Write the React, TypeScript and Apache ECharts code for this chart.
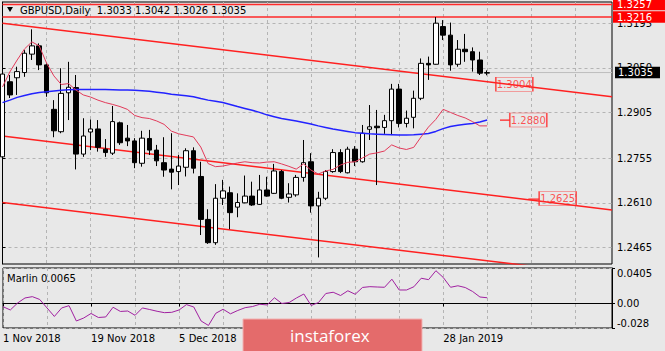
import React, { useEffect, useRef } from 'react';
import * as echarts from 'echarts';

// ---------- categories (daily bars) ----------
const novDays = [1, 2, 5, 6, 7, 8, 9, 12, 13, 14, 15, 16, 19, 20, 21, 22, 23, 26, 27, 28, 29, 30];
const decDays = [3, 4, 5, 6, 7, 10, 11, 12, 13, 14, 17, 18, 19, 20, 21, 24, 26, 27, 28, 31];
const janDays = [2, 3, 4, 7, 8, 9, 10, 11, 14, 15, 16, 17, 18, 21, 22, 23, 24, 25, 28, 29, 30, 31];
const febDays = [1, 4, 5];
const dates = [
  ...novDays.map((d) => `${d} Nov 2018`),
  ...decDays.map((d) => `${d} Dec 2018`),
  ...janDays.map((d) => `${d} Jan 2019`),
  ...febDays.map((d) => `${d} Feb 2019`),
];
const FUTURE_SLOTS = 17;
const categories = [...dates, ...Array(FUTURE_SLOTS).fill('')];
const dateLabelIdx = [0, 12, 24, 60];

// ---------- OHLC ----------
const opens = [1.2760, 1.3005, 1.3018, 1.3035, 1.3095, 1.3122, 1.3060, 1.2915, 1.2842, 1.2969, 1.2986, 1.2769, 1.2841, 1.2851, 1.2785, 1.2772, 1.2871, 1.2821, 1.2812, 1.2739, 1.2820, 1.2782, 1.2741, 1.2720, 1.2712, 1.2726, 1.2780, 1.2696, 1.2556, 1.2480, 1.2625, 1.2643, 1.2596, 1.2610, 1.2632, 1.2605, 1.2652, 1.2641, 1.2712, 1.2628, 1.2636, 1.2693, 1.2744, 1.2600, 1.2625, 1.2712, 1.2774, 1.2708, 1.2785, 1.2744, 1.2850, 1.2860, 1.2856, 1.2878, 1.2981, 1.2869, 1.2889, 1.2951, 1.3065, 1.3062, 1.3185, 1.3157, 1.3062, 1.3111, 1.3103, 1.3076, 1.3033];
const highs = [1.3040, 1.3027, 1.3054, 1.3108, 1.3176, 1.3130, 1.3065, 1.2945, 1.3049, 1.3070, 1.3027, 1.2886, 1.2882, 1.2880, 1.2818, 1.2926, 1.2875, 1.2864, 1.2821, 1.2845, 1.2848, 1.2799, 1.2824, 1.2837, 1.2766, 1.2788, 1.2791, 1.2744, 1.2589, 1.2671, 1.2685, 1.2663, 1.2641, 1.2699, 1.2679, 1.2701, 1.2695, 1.2737, 1.2717, 1.2674, 1.2701, 1.2815, 1.2772, 1.2646, 1.2717, 1.2785, 1.2785, 1.2793, 1.2795, 1.2864, 1.2929, 1.2913, 1.2897, 1.2998, 1.2998, 1.2911, 1.2976, 1.3081, 1.3087, 1.3216, 1.3206, 1.3198, 1.3141, 1.3161, 1.3117, 1.3103, 1.3042];
const lows = [1.2752, 1.2952, 1.2962, 1.3021, 1.3076, 1.3043, 1.2956, 1.2824, 1.2837, 1.2880, 1.2719, 1.2760, 1.2782, 1.2777, 1.2760, 1.2766, 1.2799, 1.2795, 1.2723, 1.2728, 1.2766, 1.2730, 1.2695, 1.2654, 1.2668, 1.2696, 1.2706, 1.2505, 1.2476, 1.2473, 1.2603, 1.2524, 1.2563, 1.2609, 1.2600, 1.2603, 1.2630, 1.2639, 1.2622, 1.2611, 1.2630, 1.2679, 1.2578, 1.2432, 1.2619, 1.2708, 1.2707, 1.2706, 1.2730, 1.2741, 1.2815, 1.2668, 1.2835, 1.2831, 1.2856, 1.2856, 1.2853, 1.2945, 1.3011, 1.3061, 1.3141, 1.3041, 1.3054, 1.3070, 1.3038, 1.3027, 1.3026];
const closes = [1.3030, 1.2962, 1.3038, 1.3098, 1.3122, 1.3060, 1.2969, 1.2845, 1.2967, 1.2987, 1.2769, 1.2828, 1.2851, 1.2791, 1.2774, 1.2875, 1.2806, 1.2812, 1.2741, 1.2821, 1.2782, 1.2747, 1.2717, 1.2710, 1.2730, 1.2780, 1.2723, 1.2556, 1.2480, 1.2625, 1.2649, 1.2578, 1.2611, 1.2632, 1.2603, 1.2652, 1.2632, 1.2714, 1.2625, 1.2639, 1.2693, 1.2741, 1.2600, 1.2625, 1.2712, 1.2774, 1.2712, 1.2785, 1.2744, 1.2837, 1.2858, 1.2855, 1.2878, 1.2981, 1.2869, 1.2886, 1.2951, 1.3065, 1.3060, 1.3196, 1.3157, 1.3060, 1.3111, 1.3103, 1.3076, 1.3033, 1.3035];

// ---------- moving averages ----------
const maBlue = [1.2937, 1.2945, 1.2954, 1.2960, 1.2966, 1.2970, 1.2972, 1.2975, 1.2977, 1.2979, 1.2980, 1.2980, 1.2980, 1.2980, 1.2980, 1.2979, 1.2978, 1.2978, 1.2977, 1.2976, 1.2974, 1.2971, 1.2968, 1.2964, 1.2962, 1.2959, 1.2956, 1.2950, 1.2945, 1.2941, 1.2937, 1.2931, 1.2924, 1.2918, 1.2912, 1.2905, 1.2897, 1.2891, 1.2885, 1.2881, 1.2877, 1.2872, 1.2867, 1.2861, 1.2856, 1.2851, 1.2847, 1.2843, 1.2839, 1.2837, 1.2835, 1.2834, 1.2833, 1.2832, 1.2831, 1.2831, 1.2832, 1.2834, 1.2836, 1.2843, 1.2852, 1.2859, 1.2863, 1.2866, 1.2869, 1.2874, 1.2880];
const maPink = [1.2988, 1.3037, 1.3076, 1.3112, 1.3135, 1.3122, 1.3066, 1.3024, 1.2996, 1.2999, 1.2978, 1.2962, 1.2955, 1.2945, 1.2937, 1.2931, 1.2924, 1.2915, 1.2895, 1.2888, 1.2885, 1.2877, 1.2866, 1.2844, 1.2835, 1.2830, 1.2825, 1.2792, 1.2738, 1.2728, 1.2730, 1.2735, 1.2740, 1.2744, 1.2741, 1.2740, 1.2743, 1.2744, 1.2737, 1.2729, 1.2720, 1.2737, 1.2717, 1.2704, 1.2714, 1.2719, 1.2733, 1.2742, 1.2744, 1.2756, 1.2769, 1.2773, 1.2779, 1.2799, 1.2789, 1.2784, 1.2791, 1.2825, 1.2857, 1.2882, 1.2915, 1.2905, 1.2895, 1.2887, 1.2875, 1.2861, 1.2861];

// ---------- Marlin oscillator ----------
const marlin = [-0.0037, -0.0074, 0.0006, 0.0063, 0.0078, 0.0046, -0.0051, -0.0148, -0.0051, -0.0025, -0.0200, -0.0166, -0.0114, -0.0160, -0.0154, -0.0043, -0.0091, -0.0086, -0.0135, -0.0051, -0.0069, -0.0089, -0.0105, -0.0101, -0.0074, -0.0013, -0.0040, -0.0200, -0.0251, -0.0112, -0.0066, -0.0118, -0.0080, -0.0048, -0.0035, -0.0009, -0.0017, 0.0065, 0.0000, 0.0011, 0.0063, 0.0108, -0.0023, 0.0011, 0.0114, 0.0128, 0.0091, 0.0145, 0.0105, 0.0183, 0.0192, 0.0188, 0.0185, 0.0277, 0.0154, 0.0154, 0.0191, 0.0288, 0.0272, 0.0374, 0.0297, 0.0185, 0.0202, 0.0182, 0.0137, 0.0074, 0.0065];

// ---------- channel lines (bar index, price) ----------
const channelX = [0, 83];
const channelTop = [1.3196, 1.2956];
const channelMid = [1.2828, 1.2587];
const channelBot = [1.2611, 1.2372];

// ---------- price tags on the chart ----------
const tagX = [69.7, 71.6, 75.6];
const tagY = [1.2997, 1.2880, 1.2624];
const tagText = ['1.3004', '1.2880', '1.2625'];
const tagLeaderX = [[67.75, 69.1], [71.6, 73.1]];
const tagLeaderY = [1.2880, 1.2622];

// ---------- horizontal levels ----------
const resistanceLevels = [1.3257, 1.3216];
const bidPrice = 1.3035;

// ---------- axis ticks ----------
const priceTicks = [1.2465, 1.2610, 1.2755, 1.2905, 1.3050, 1.3195];
const marlinTicks = [-0.028, 0, 0.0405];
const marlinTickLabels = ['-0.028', '0.00', '0.0405'];

const FONT = 'DejaVu Sans';
const BG = '#e8e8e8';
const GRID_DASH = { color: '#b4b4b4', type: [3, 3] as number[], width: 1 };

export default function App() {
  const ref = useRef<HTMLDivElement>(null);

  useEffect(() => {
    if (!ref.current) return;
    const chart = echarts.init(ref.current, undefined, { renderer: 'svg' });

    const candleData = opens.map((o, i) => [o, closes[i], lows[i], highs[i]]);
    const showDate = (index: number) => dateLabelIdx.includes(index);
    const lineSeries = (name: string, ys: number[], color: string, width: number) => ({
      name,
      type: 'line',
      xAxisIndex: 2,
      yAxisIndex: 0,
      data: channelX.map((x, i) => [x, ys[i]]),
      showSymbol: false,
      symbol: 'none',
      silent: true,
      lineStyle: { color, width },
      z: 3,
    });
    const levelSeries = (name: string, level: number, lineColor: string, lineWidth: number, tagBg: string, dist: number, pad: number[]) => ({
      name,
      type: 'line',
      xAxisIndex: 2,
      yAxisIndex: 0,
      data: channelX.map((x) => [x, level]),
      showSymbol: false,
      symbol: 'none',
      silent: true,
      clip: false,
      lineStyle: { color: lineColor, width: lineWidth },
      z: 3,
      markLine: {
        silent: true, symbol: ['none', 'none'], animation: false,
        lineStyle: { color: 'rgba(0,0,0,0)', width: 0, type: 'solid' },
        label: {
          show: true, position: 'end', distance: dist, formatter: level.toFixed(4),
          backgroundColor: tagBg, color: '#ffffff', fontSize: 10, fontFamily: FONT,
          padding: pad, lineHeight: 11.5,
        },
        data: [[{ coord: [channelX[0], level] }, { coord: [channelX[1], level] }]],
      },
    });

    const option: any = {
      animation: false,
      backgroundColor: BG,
      textStyle: { fontFamily: FONT },
      grid: [
        { left: 2.5, top: 2, width: 609.5, height: 262, show: true, backgroundColor: BG, borderColor: '#000', borderWidth: 1 },
        { left: 2.5, top: 268, width: 609.5, height: 60, show: true, backgroundColor: BG, borderColor: '#000', borderWidth: 1 },
      ],
      xAxis: [
        {
          type: 'category', gridIndex: 0, data: categories, boundaryGap: false,
          axisLine: { show: false }, axisTick: { show: false }, axisLabel: { show: false },
          splitLine: { show: true, interval: 5, lineStyle: GRID_DASH },
        },
        {
          type: 'category', gridIndex: 1, data: categories, boundaryGap: false,
          axisLine: { show: true, lineStyle: { color: '#000', width: 1 } },
          axisTick: { show: true, interval: showDate, length: 3, lineStyle: { color: '#000' } },
          axisLabel: { show: true, interval: showDate, align: 'left', margin: 5, fontSize: 10, color: '#000', fontFamily: FONT },
          splitLine: { show: true, interval: 5, lineStyle: GRID_DASH },
        },
        { type: 'value', gridIndex: 0, min: 0, max: 83, show: false },
      ],
      yAxis: [
        {
          type: 'value', gridIndex: 0, position: 'right', min: 1.24105, max: 1.32651,
          axisLine: { show: true, lineStyle: { color: '#000', width: 1 } },
          axisTick: { show: true, customValues: priceTicks, length: 3, lineStyle: { color: '#000' } },
          axisLabel: { show: true, customValues: priceTicks, formatter: (v: number) => v.toFixed(4), fontSize: 10, color: '#000', margin: 5, fontFamily: FONT },
          splitLine: { show: true, lineStyle: GRID_DASH },
        },
        {
          type: 'value', gridIndex: 1, position: 'right', min: -0.028, max: 0.0405,
          axisLine: { show: true, lineStyle: { color: '#000', width: 1 } },
          axisTick: { show: true, customValues: marlinTicks, length: 3, lineStyle: { color: '#000' } },
          axisLabel: {
            show: true, customValues: marlinTicks, fontSize: 10, color: '#000', margin: 5, fontFamily: FONT,
            verticalAlignMaxLabel: 'top', verticalAlignMinLabel: 'bottom',
            formatter: (v: number) => {
              let best = 0;
              marlinTicks.forEach((t, i) => { if (Math.abs(t - v) < Math.abs(marlinTicks[best] - v)) best = i; });
              return marlinTickLabels[best];
            },
          },
          splitLine: { show: true, lineStyle: GRID_DASH },
        },
      ],
      series: [
        {
          name: 'GBPUSD', type: 'candlestick', xAxisIndex: 0, yAxisIndex: 0, data: candleData,
          barWidth: 5, silent: true, z: 4,
          itemStyle: { color: '#ffffff', color0: '#000000', borderColor: '#000000', borderColor0: '#000000', borderWidth: 1 },
        },
        levelSeries('R1', resistanceLevels[0], '#ff2a2a', 1.5, '#ff0000', 1, [0, 13, 0, 4]),
        levelSeries('R2', resistanceLevels[1], '#ff2a2a', 1.5, '#ff0000', 1, [0, 13, 0, 4]),
        levelSeries('Bid', bidPrice, '#bdbdbd', 1, '#000000', 3, [0, 7, 0, 3]),
        lineSeries('channelTop', channelTop, '#ff2020', 1.5),
        lineSeries('channelMid', channelMid, '#ff2020', 1.5),
        lineSeries('channelBot', channelBot, '#ff2020', 1.5),
        {
          name: 'MA blue', type: 'line', xAxisIndex: 0, yAxisIndex: 0, data: maBlue,
          showSymbol: false, symbol: 'none', silent: true, z: 5,
          lineStyle: { color: '#2222ff', width: 1.5 },
        },
        {
          name: 'MA pink', type: 'line', xAxisIndex: 0, yAxisIndex: 0, data: maPink,
          showSymbol: false, symbol: 'none', silent: true, z: 5,
          lineStyle: { color: '#e23a5a', width: 1 },
        },
        ...tagLeaderX.map((xs, k) => ({
          name: `leader${k}`, type: 'line', xAxisIndex: 2, yAxisIndex: 0,
          data: xs.map((x) => [x, tagLeaderY[k]]), showSymbol: false, symbol: 'none', silent: true,
          lineStyle: { color: '#ff2020', width: 1.2 }, z: 5,
        })),
        {
          name: 'tags', type: 'scatter', xAxisIndex: 2, yAxisIndex: 0, silent: true, z: 6,
          data: tagX.map((x, i) => [x, tagY[i]]),
          symbol: 'rect', symbolSize: [37, 14],
          itemStyle: { color: 'rgba(0,0,0,0)', borderColor: '#ff2a2a', borderWidth: 1 },
          label: {
            show: true, position: 'inside', color: '#ff2a2a', fontSize: 10, fontFamily: FONT,
            formatter: (p: any) => tagText[p.dataIndex],
          },
        },
        {
          name: 'Marlin', type: 'line', xAxisIndex: 1, yAxisIndex: 1, data: marlin,
          showSymbol: false, symbol: 'none', silent: true,
          lineStyle: { color: '#a020a0', width: 1 },
        },
      ],
      graphic: [
        { type: 'polygon', shape: { points: [[7, 7], [13, 7], [10, 12]] }, style: { fill: '#000' }, z: 100 },
        {
          type: 'text', x: 20, y: 10, z: 100,
          style: { text: 'GBPUSD,Daily  1.3033 1.3042 1.3026 1.3035', fill: '#000', font: `10px "${FONT}"`, verticalAlign: 'middle' },
        },
        {
          type: 'text', x: 7, y: 278, z: 100,
          style: { text: 'Marlin 0.0065', fill: '#000', font: `10px "${FONT}"`, verticalAlign: 'middle' },
        },
        {
          type: 'rect', shape: { x: 243, y: 319, width: 179, height: 34 }, z: 100,
          style: { fill: '#e46b6b', stroke: '#f2b3b3', lineWidth: 1 },
        },
        {
          type: 'text', x: 290, y: 335, z: 101,
          style: { text: 'instaforex', fill: '#ffffff', font: '17px "Open Sans"', verticalAlign: 'middle' },
        },
      ],
    };

    chart.setOption(option);
    return () => chart.dispose();
  }, []);

  return <div ref={ref} style={{ position: 'fixed', left: 0, top: 0, width: 665, height: 351 }} />;
}
